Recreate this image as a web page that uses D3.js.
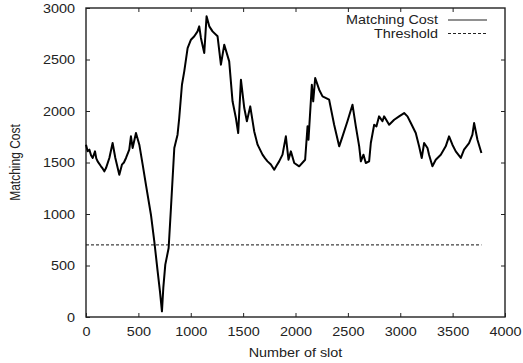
<!DOCTYPE html>
<html>
<head>
<meta charset="utf-8">
<script src="https://cdn.jsdelivr.net/npm/d3@7"></script>
<style>
  html, body { margin: 0; padding: 0; background: #fff; }
  svg { display: block; }
  text { font-family: "Liberation Sans", Arial, Helvetica, sans-serif; font-size: 12px; fill: #222; }
</style>
</head>
<body>
<svg id="chart" width="523" height="363"></svg>
<script>
// Matching cost per slot
const slots = [0, 16, 32, 48, 64, 86, 98, 111, 143, 160, 175, 191, 223, 254, 280, 318, 343, 362, 382, 413, 429, 445, 477, 509,
  541, 572, 620, 652, 684, 706, 725, 738, 757, 789, 811, 843, 874, 890, 916, 938, 970, 1002, 1034,
  1065, 1081, 1097, 1129, 1151, 1177, 1208, 1256, 1288, 1320, 1367, 1399, 1431, 1453, 1479, 1511,
  1536, 1568, 1606, 1638, 1685, 1710, 1733, 1765, 1797, 1820, 1844, 1876, 1908, 1933, 1956, 1988, 2035, 2092, 2115,
  2124, 2156, 2169, 2188, 2226, 2258, 2321, 2369, 2417, 2449, 2496, 2544, 2576, 2608, 2624, 2649,
  2671, 2703, 2719, 2751, 2773, 2798, 2830, 2846, 2894, 2942, 2989, 3037, 3069, 3101, 3148, 3180,
  3205, 3228, 3260, 3275, 3307, 3339, 3387, 3434, 3466, 3498, 3530, 3578, 3609, 3657, 3689, 3705,
  3737, 3775];
const costs = [1673, 1610, 1625, 1570, 1544, 1608, 1540, 1511, 1463, 1440, 1414, 1446, 1544, 1689, 1544, 1382, 1479, 1500, 1544, 1625, 1754, 1641, 1786, 1673,
  1479, 1285, 993, 735, 443, 249, 55, 282, 508, 670, 1058, 1641, 1770, 1932, 2255, 2385, 2611, 2692, 2725,
  2773, 2822, 2709, 2563, 2919, 2822, 2773, 2725, 2450, 2644, 2482, 2094, 1932, 1786, 2304, 2029,
  1900, 2045, 1802, 1673, 1576, 1540, 1511, 1480, 1430, 1470, 1511, 1576, 1754, 1527, 1608, 1495, 1463, 1527, 1851,
  1722, 2255, 2094, 2320, 2207, 2142, 2110, 1867, 1657, 1754, 1900, 2061, 1851, 1657, 1511, 1576,
  1495, 1511, 1689, 1867, 1851, 1948, 1900, 1948, 1867, 1915, 1948, 1980, 1948, 1883, 1786, 1657,
  1544, 1689, 1641, 1576, 1463, 1527, 1576, 1657, 1754, 1673, 1608, 1544, 1625, 1689, 1770, 1883,
  1721, 1592];

// Detection threshold, drawn across the same slot range
const threshold = 700;
const thresholdRange = [0, 3775];

const xTicks = [0, 500, 1000, 1500, 2000, 2500, 3000, 3500, 4000];
const yTicks = [0, 500, 1000, 1500, 2000, 2500, 3000];
const legendLabels = ["Matching Cost", "Threshold"];
const xTitle = "Number of slot";
const yTitle = "Matching Cost";

const svg = d3.select("#chart");
const plotLeft = 86, plotRight = 505, plotTop = 8, plotBottom = 317;
const textScale = 1.2;

const x = d3.scaleLinear().domain([0, 4000]).range([plotLeft, plotRight]);
const y = d3.scaleLinear().domain([0, 3000]).range([plotBottom, plotTop]);

// Mirrored inward ticks on all four sides
function styleAxis(g) {
  g.select(".domain").remove();
  g.selectAll(".tick line").attr("stroke", "#222").attr("stroke-width", 1);
}

const gBottom = svg.append("g").attr("transform", `translate(0,${plotBottom})`)
  .call(d3.axisBottom(x).tickValues(xTicks).tickSize(-4).tickFormat(d3.format("d")))
  .call(styleAxis);
gBottom.selectAll(".tick text")
  .attr("x", null).attr("y", null).attr("dy", null)
  .attr("transform", `translate(0,19) scale(${textScale},1)`)
  .attr("fill", "#222").attr("font-size", 12).attr("font-family", null);

svg.append("g").attr("transform", `translate(0,${plotTop})`)
  .call(d3.axisTop(x).tickValues(xTicks.slice(1, -1)).tickSize(-4).tickFormat(""))
  .call(styleAxis);

const gLeft = svg.append("g").attr("transform", `translate(${plotLeft},0)`)
  .call(d3.axisLeft(y).tickValues(yTicks).tickSize(-4).tickFormat(d3.format("d")))
  .call(styleAxis);
gLeft.selectAll(".tick text")
  .attr("x", null).attr("y", null).attr("dy", null)
  .attr("text-anchor", "end")
  .attr("transform", `translate(-11,4) scale(${textScale},1)`)
  .attr("fill", "#222").attr("font-size", 12).attr("font-family", null);

svg.append("g").attr("transform", `translate(${plotRight},0)`)
  .call(d3.axisRight(y).tickValues(yTicks.slice(1, -1)).tickSize(-4).tickFormat(""))
  .call(styleAxis);

// Plot frame
svg.append("rect")
  .attr("x", plotLeft).attr("y", plotTop)
  .attr("width", plotRight - plotLeft).attr("height", plotBottom - plotTop)
  .attr("fill", "none").attr("stroke", "#222").attr("stroke-width", 1.4);

// Threshold line
svg.append("line")
  .attr("x1", x(thresholdRange[0])).attr("x2", x(thresholdRange[1]))
  .attr("y1", y(threshold)).attr("y2", y(threshold))
  .attr("stroke", "#111").attr("stroke-width", 1).attr("stroke-dasharray", "3,2");

// Matching cost curve
const line = d3.line().x(d => x(d[0])).y(d => y(d[1]));
svg.append("path")
  .datum(slots.map((s, i) => [s, costs[i]]))
  .attr("d", line)
  .attr("fill", "none").attr("stroke", "#000").attr("stroke-width", 2)
  .attr("stroke-linejoin", "round");

// Legend
const legendY = [20, 33.5];
legendLabels.forEach((lab, i) => {
  svg.append("text")
    .attr("transform", `translate(438,${legendY[i] + 4}) scale(${textScale},1)`)
    .attr("text-anchor", "end").text(lab);
  svg.append("line")
    .attr("x1", 448).attr("x2", 487)
    .attr("y1", legendY[i]).attr("y2", legendY[i])
    .attr("stroke", "#222").attr("stroke-width", i === 0 ? 1.2 : 1)
    .attr("stroke-dasharray", i === 0 ? null : "3,2");
});

// Axis titles
svg.append("text")
  .attr("transform", `translate(${(plotLeft + plotRight) / 2},357) scale(${textScale},1)`)
  .attr("text-anchor", "middle").text(xTitle);
svg.append("text")
  .attr("transform", `translate(20,${(plotTop + plotBottom) / 2}) scale(${textScale},1) rotate(-90)`)
  .attr("text-anchor", "middle").text(yTitle);
</script>
</body>
</html>
